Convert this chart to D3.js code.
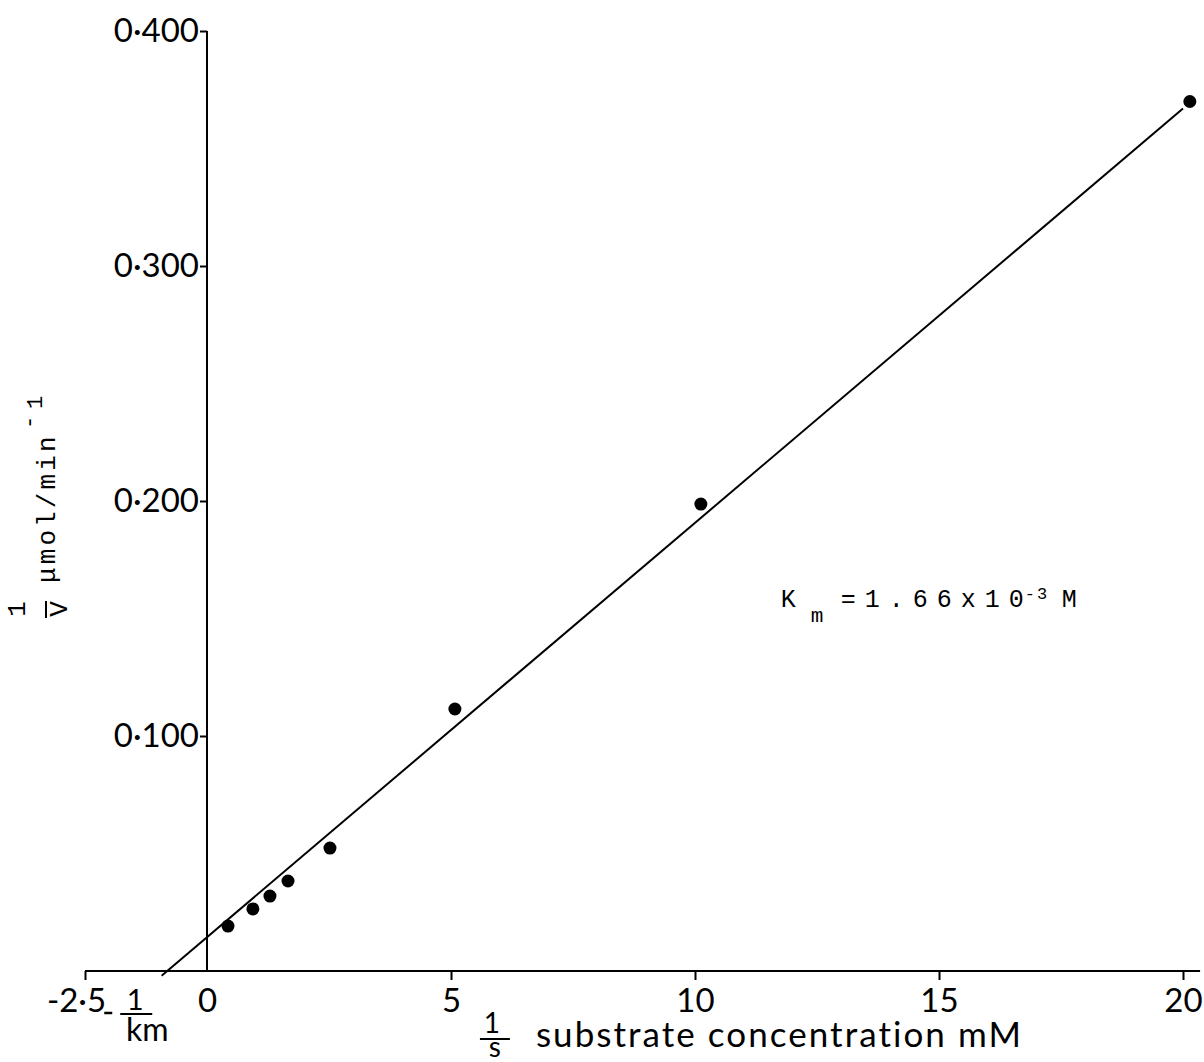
<!DOCTYPE html>
<html>
<head>
  <title>Lineweaver-Burk plot</title>
  <script src="https://d3js.org/d3.v7.min.js"></script>
  <style>
    body { margin: 0; background: #fff; }
    text { font-variant-ligatures: none; }
    .tick text { font-family: Lato, "DejaVu Sans", sans-serif; }
  </style>
</head>

<body>
  <script>
    // measured points: 1/[S] (mM^-1) and 1/v
    const invS = [0.43, 0.94, 1.29, 1.66, 2.52, 5.08, 10.12, 20.14];
    const invV = [0.0191, 0.0264, 0.0319, 0.0383, 0.0523, 0.1115, 0.1987, 0.370];

    // ends of the fitted line
    const fitX = [-0.93, 20.0];
    const fitY = [-0.002, 0.367];

    const xTicks = [-2.5, 0, 5, 10, 15, 20];
    const xTickLabels = ["-2·5", "0", "5", "10", "15", "20"];
    const yTicks = [0.1, 0.2, 0.3, 0.4];
    const yTickLabels = ["0·100", "0·200", "0·300", "0·400"];

    const width = 1204,
      height = 1062;

    let svg = d3.select("body")
      .append("svg")
      .attr("width", width)
      .attr("height", height)
      .style("background", "#fff");

    let x = d3.scaleLinear().domain([-2.5, 20]).range([85, 1183]);
    let y = d3.scaleLinear().domain([0, 0.4]).range([971, 31]);

    // x axis
    let xAxis = d3.axisBottom(x)
      .tickValues(xTicks)
      .tickSize(9)
      .tickFormat((d, i) => xTickLabels[i]);

    let gx = svg.append("g")
      .attr("transform", "translate(0," + y(0) + ")")
      .call(xAxis);
    gx.select(".domain").remove();
    gx.selectAll(".tick line").attr("stroke", "#000").attr("stroke-width", 2);
    gx.selectAll(".tick").filter(d => d === 0).select("line").remove();
    gx.selectAll(".tick text")
      .attr("y", 41)
      .attr("dy", null)
      .attr("font-size", 33)
      .attr("fill", "#000")
      .attr("dx", (d) => d === -2.5 ? -9 : 0);

    svg.append("line")
      .attr("x1", x(-2.5)).attr("x2", x(20.35))
      .attr("y1", y(0)).attr("y2", y(0))
      .attr("stroke", "#000").attr("stroke-width", 2);

    // y axis
    let yAxis = d3.axisLeft(y)
      .tickValues(yTicks)
      .tickSize(7)
      .tickPadding(1)
      .tickFormat((d, i) => yTickLabels[i]);

    let gy = svg.append("g")
      .attr("transform", "translate(" + x(0) + ",0)")
      .call(yAxis);
    gy.select(".domain").remove();
    gy.selectAll(".tick line").attr("stroke", "#000").attr("stroke-width", 2);
    gy.selectAll(".tick text").attr("font-size", 33).attr("fill", "#000");

    svg.append("line")
      .attr("x1", x(0)).attr("x2", x(0))
      .attr("y1", y(0)).attr("y2", y(0.4))
      .attr("stroke", "#000").attr("stroke-width", 2);

    // fitted line
    svg.append("line")
      .attr("x1", x(fitX[0])).attr("y1", y(fitY[0]))
      .attr("x2", x(fitX[1])).attr("y2", y(fitY[1]))
      .attr("stroke", "#000").attr("stroke-width", 2);

    // points
    svg.selectAll(".dot")
      .data(invS)
      .enter()
      .append("circle")
      .attr("class", "dot")
      .attr("cx", d => x(d))
      .attr("cy", (d, i) => y(invV[i]))
      .attr("r", 6.5)
      .attr("fill", "#000");

    // -1/km label under the axis
    const kx = x(-1.45);
    let sans = "Lato, 'DejaVu Sans', sans-serif";
    svg.append("line").attr("x1", kx - 32).attr("x2", kx - 24)
      .attr("y1", 1013).attr("y2", 1013)
      .attr("stroke", "#000").attr("stroke-width", 2.5);
    svg.append("text").attr("x", kx - 1).attr("y", 1010)
      .attr("text-anchor", "middle").attr("font-family", sans)
      .attr("font-size", 29).text("1");
    svg.append("line").attr("x1", kx - 16).attr("x2", kx + 16)
      .attr("y1", 1014).attr("y2", 1014)
      .attr("stroke", "#000").attr("stroke-width", 2);
    svg.append("text").attr("x", kx + 11).attr("y", 1041)
      .attr("text-anchor", "middle").attr("font-family", sans)
      .attr("font-size", 32).text("km");

    // x axis title: 1/s substrate concentration mM
    const sx = x(5.9);
    svg.append("text").attr("x", sx - 3).attr("y", 1033)
      .attr("text-anchor", "middle").attr("font-family", sans)
      .attr("font-size", 28).text("1");
    svg.append("line").attr("x1", sx - 15).attr("x2", sx + 15)
      .attr("y1", 1039).attr("y2", 1039)
      .attr("stroke", "#000").attr("stroke-width", 2);
    svg.append("text").attr("x", sx).attr("y", 1057)
      .attr("text-anchor", "middle").attr("font-family", sans)
      .attr("font-size", 28).text("s");
    svg.append("text").attr("x", sx + 41).attr("y", 1047)
      .attr("font-family", sans)
      .attr("font-size", 35)
      .attr("textLength", 485).attr("lengthAdjust", "spacing")
      .text("substrate  concentration  mM");

    // y axis title, typewriter style, rotated
    let mono = "'Liberation Mono', 'DejaVu Sans Mono', monospace";
    let yl = svg.append("g")
      .attr("transform", "translate(55,620) rotate(-90)")
      .attr("font-family", mono);
    yl.append("text").attr("x", 11).attr("y", -30)
      .attr("text-anchor", "middle").attr("font-size", 26).text("1");
    yl.append("line").attr("x1", 2).attr("x2", 19)
      .attr("y1", -9).attr("y2", -9)
      .attr("stroke", "#000").attr("stroke-width", 2);
    yl.append("text").attr("x", 11).attr("y", 12)
      .attr("text-anchor", "middle").attr("font-size", 26).text("V");
    yl.append("text").attr("x", 37).attr("y", 0)
      .attr("font-size", 26).attr("letter-spacing", 3.1)
      .text("μmol/min");
    yl.append("text").attr("x", 191).attr("y", -19)
      .attr("font-size", 22).text("-");
    yl.append("text").attr("x", 211).attr("y", -13)
      .attr("font-size", 22).text("1");

    // Km annotation
    const ax = x(11.8), ay = y(0.155);
    let km = svg.append("g").attr("font-family", mono).attr("fill", "#000");
    km.append("text").attr("x", ax - 2).attr("y", ay).attr("font-size", 25).text("K");
    km.append("text").attr("x", ax + 28).attr("y", ay + 15).attr("font-size", 21).text("m");
    let rest = km.append("text").attr("x", ax + 58).attr("y", ay)
      .attr("font-size", 25).attr("letter-spacing", 9);
    rest.append("tspan").text("=1.66x10");
    rest.append("tspan").attr("x", ax + 242).attr("dy", -8)
      .attr("font-size", 17).attr("letter-spacing", 2).text("-3");
    rest.append("tspan").attr("x", ax + 279).attr("dy", 8).text("M");
  </script>
</body>
</html>
